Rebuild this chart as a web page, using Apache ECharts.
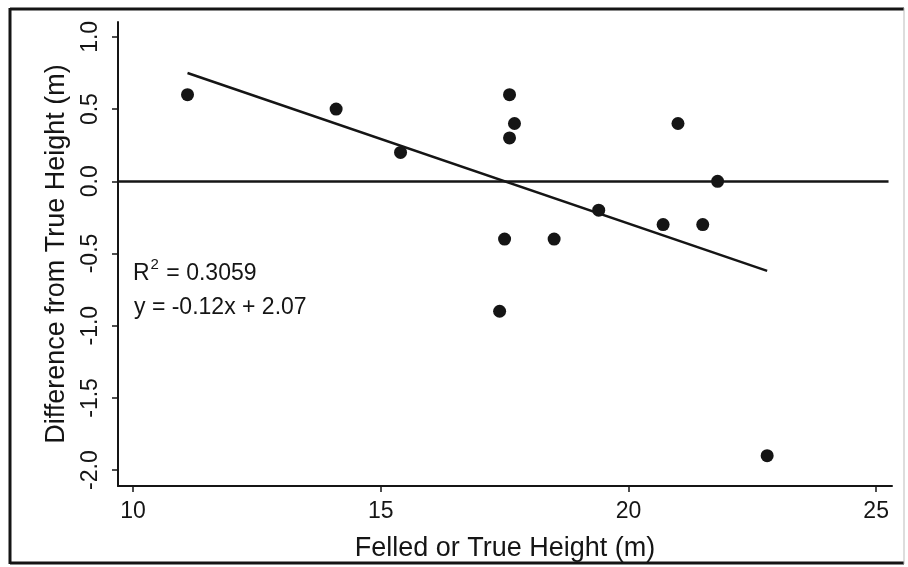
<!DOCTYPE html>
<html>
<head>
<meta charset="utf-8">
<script src="https://cdn.jsdelivr.net/npm/echarts@6/dist/echarts.min.js"></script>
<style>
html,body{margin:0;padding:0;background:#fff;}
#chart{width:908px;height:567px;}
</style>
</head>
<body>
<div id="chart"></div>
<script>
// Data
var felledHeight = [11.1, 14.1, 15.4, 17.6, 17.7, 17.6, 19.4, 17.5, 18.5, 17.4, 21.0, 21.8, 20.7, 21.5, 22.8];
var difference   = [0.6, 0.5, 0.2, 0.6, 0.4, 0.3, -0.2, -0.4, -0.4, -0.9, 0.4, 0.0, -0.3, -0.3, -1.9];
var trendX = [11.1, 22.8];
var trendY = [0.75, -0.62];
var xTicks = [10, 15, 20, 25];
var yTicks = [-2.0, -1.5, -1.0, -0.5, 0.0, 0.5, 1.0];
var xTitle = 'Felled or True Height (m)';
var yTitle = 'Difference from True Height (m)';
var r2Text = '0.3059';
var eqText = 'y = -0.12x + 2.07';

var scatterData = felledHeight.map(function (x, i) { return [x, difference[i]]; });
var trendData = trendX.map(function (x, i) { return [x, trendY[i]]; });

var FONT = '"Liberation Sans", Arial, sans-serif';
var INK = '#151515';

var chart = echarts.init(document.getElementById('chart'), null, {renderer: 'canvas'});
chart.setOption({
  animation: false,
  backgroundColor: '#fff',
  grid: {left: 118, right: 16, top: 22, bottom: 79, containLabel: false},
  xAxis: {
    type: 'value', min: 9.697, max: 25.32,
    name: xTitle, nameLocation: 'middle', nameGap: 49,
    nameTextStyle: {fontFamily: FONT, fontSize: 27, color: INK},
    axisLine: {show: true, onZero: false, lineStyle: {color: INK, width: 2}},
    axisTick: {show: true, inside: false, length: 6, lineStyle: {color: INK, width: 1.5}, customValues: xTicks},
    axisLabel: {show: true, fontFamily: FONT, fontSize: 23, color: INK, margin: 14, customValues: xTicks,
      formatter: function (v) { return String(v); }},
    splitLine: {show: false}
  },
  yAxis: {
    type: 'value', min: -2.11, max: 1.103,
    name: yTitle, nameLocation: 'middle', nameGap: 48, nameRotate: 90,
    nameTextStyle: {fontFamily: FONT, fontSize: 27, color: INK},
    axisLine: {show: true, onZero: false, lineStyle: {color: INK, width: 2}},
    axisTick: {show: true, inside: false, length: 6, lineStyle: {color: INK, width: 1.5}, customValues: yTicks},
    axisLabel: {show: true, fontFamily: FONT, fontSize: 23, color: INK, margin: 16, rotate: 90, customValues: yTicks,
      formatter: function (v) { return v.toFixed(1); }},
    splitLine: {show: false}
  },
  series: [
    {
      type: 'line', data: trendData, showSymbol: false, symbol: 'none',
      lineStyle: {color: INK, width: 2.5}, silent: true, z: 2,
      markLine: {
        silent: true, symbol: ['none', 'none'], label: {show: false},
        lineStyle: {color: INK, width: 2.5, type: 'solid'},
        data: [[{coord: [9.697, 0]}, {coord: [25.25, 0]}]]
      }
    },
    {
      type: 'scatter', data: scatterData, symbol: 'circle', symbolSize: 13,
      itemStyle: {color: INK, opacity: 1}, z: 3
    }
  ],
  graphic: [
    {type: 'line', shape: {x1: 10, y1: 9, x2: 904, y2: 9}, style: {stroke: INK, lineWidth: 3}},
    {type: 'line', shape: {x1: 10, y1: 8, x2: 10, y2: 564}, style: {stroke: INK, lineWidth: 3}},
    {type: 'line', shape: {x1: 10, y1: 563, x2: 904, y2: 563}, style: {stroke: INK, lineWidth: 3}},
    {type: 'line', shape: {x1: 904, y1: 8, x2: 904, y2: 564}, style: {stroke: '#bbb', lineWidth: 1}},
    {type: 'text', left: 133, top: 257,
      style: {text: '{r|R}{s|2}{r| = ' + r2Text + '}', rich: {
        r: {fontFamily: FONT, fontSize: 23, fill: INK, verticalAlign: 'bottom', lineHeight: 28},
        s: {fontFamily: FONT, fontSize: 15, fill: INK, verticalAlign: 'top', lineHeight: 28, padding: [0, 1, 10, 1]}
      }}},
    {type: 'text', left: 134, top: 296,
      style: {text: eqText, fontFamily: FONT, fontSize: 23, fill: INK}}
  ]
});
</script>
</body>
</html>
